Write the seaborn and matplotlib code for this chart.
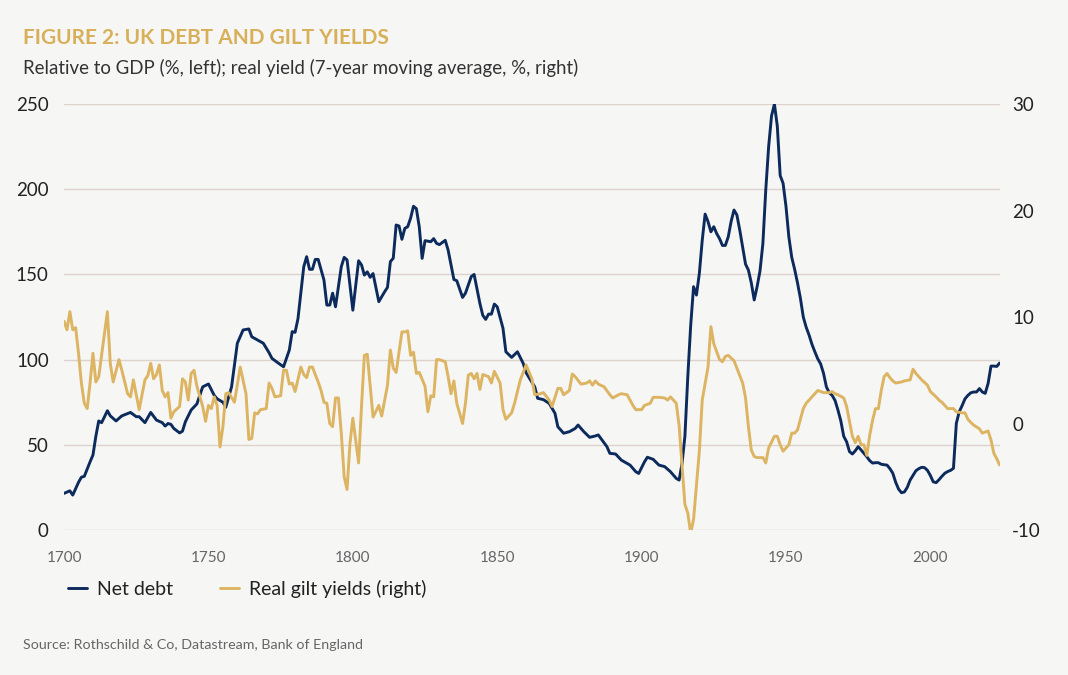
import numpy as np
import pandas as pd
import matplotlib
matplotlib.use('Agg')
import matplotlib.pyplot as plt
import seaborn as sns

# net debt, % of GDP (left axis)
debt_years = [1700, 1702, 1703, 1705, 1706, 1707, 1709, 1710, 1711, 1712, 1713, 1715, 1716, 1717, 1718,
              1720, 1723, 1725, 1726, 1728, 1730, 1732, 1734, 1735, 1736, 1737, 1738, 1740, 1741, 1742,
              1744, 1746, 1748, 1750, 1752, 1753, 1755, 1756, 1758, 1760, 1762, 1764, 1765, 1767, 1769,
              1771, 1772, 1774, 1776, 1778, 1779, 1780, 1781, 1783, 1784, 1785, 1786, 1787, 1788, 1790,
              1791, 1792, 1793, 1794, 1796, 1797, 1798, 1800, 1802, 1803, 1804, 1805, 1806, 1807, 1809,
              1811, 1812, 1813, 1814, 1815, 1816, 1817, 1818, 1819, 1820, 1821, 1822, 1823, 1824, 1825,
              1827, 1828, 1829, 1830, 1832, 1833, 1835, 1836, 1838, 1839, 1841, 1842, 1844, 1845, 1846,
              1847, 1848, 1849, 1850, 1852, 1853, 1855, 1857, 1859, 1860, 1863, 1864, 1866, 1868, 1870,
              1871, 1873, 1875, 1877, 1878, 1880, 1882, 1884, 1885, 1888, 1889, 1891, 1893, 1896, 1898,
              1899, 1901, 1902, 1904, 1906, 1908, 1910, 1912, 1913, 1914, 1915, 1916, 1917, 1918, 1919,
              1920, 1921, 1922, 1923, 1924, 1925, 1926, 1927, 1928, 1929, 1930, 1931, 1932, 1933, 1934,
              1935, 1936, 1937, 1938, 1939, 1940, 1941, 1942, 1943, 1944, 1945, 1946, 1947, 1948, 1949,
              1950, 1951, 1952, 1953, 1954, 1955, 1956, 1957, 1958, 1959, 1960, 1961, 1962, 1963, 1964,
              1965, 1966, 1967, 1968, 1969, 1970, 1971, 1972, 1973, 1974, 1975, 1976, 1977, 1978, 1979,
              1980, 1981, 1982, 1983, 1984, 1985, 1986, 1987, 1988, 1989, 1990, 1991, 1992, 1993, 1994,
              1995, 1996, 1997, 1998, 1999, 2000, 2001, 2002, 2003, 2004, 2005, 2006, 2007, 2008, 2009,
              2010, 2011, 2012, 2013, 2014, 2015, 2016, 2017, 2018, 2019, 2020, 2021, 2022, 2023, 2024]
net_debt = [21.5, 23, 20.5, 28, 31, 31.5, 40, 44, 55, 64, 63, 70, 67, 65.5, 64,
            67, 69, 66.5, 66.5, 63, 69, 64.5, 63, 61, 62.5, 62, 59.6, 57, 58, 63.5,
            70.4, 74, 84, 85.7, 79, 77, 75, 72, 84, 109.6, 117.4, 118, 113.4, 111.5, 109.6,
            104, 100.7, 98.2, 95.8, 105.6, 116.4, 116, 124, 154.5, 160.4, 153, 153, 158.8, 158.8, 146.7,
            132, 132, 139, 131, 154.5, 160, 158.5, 129, 158, 155.6, 149.6, 151.5, 148.3, 150.5, 134,
            139.8, 142.4, 157.5, 159.5, 179, 178.4, 170.6, 177, 178, 183, 190, 188.6, 178, 159.4, 169.8,
            169.2, 171, 168.2, 167.5, 170, 164.3, 147, 146.3, 136.5, 139, 148.7, 150, 133, 126, 123.6,
            126.7, 126.7, 132.6, 131, 118.4, 104.6, 101.3, 104.6, 97.8, 92.3, 84, 77.3, 76.5, 74.3, 68.5,
            60.6, 56.8, 57.7, 59.6, 61.6, 57.7, 54.4, 55.2, 55.8, 48.9, 45, 44.6, 41, 38.1, 34.2,
            33.2, 40, 42.7, 41.5, 38.1, 37.2, 34.2, 30.3, 29.3, 39, 55, 90, 120, 142.8, 137.9,
            150.6, 170, 185.4, 181, 175, 178, 174, 171, 167, 167, 172, 181, 187.8, 184.9, 176,
            166, 156, 152.5, 145, 135, 142.8, 152, 168, 199.5, 225, 243, 250, 237, 208, 203.5,
            190, 172, 160, 153, 145, 136, 125, 119, 114.4, 109, 104.6, 100.5, 97.5, 92, 84,
            80.5, 79, 76, 70.4, 64, 55, 51.8, 46, 44.6, 46.5, 48.9, 47, 45, 43, 40.7,
            39.3, 39.5, 39.5, 38.6, 38.3, 38.1, 36, 33.3, 28, 24, 21.9, 22.3, 25, 29.3, 32,
            34.8, 36, 36.8, 36.6, 35, 32, 28.3, 27.8, 29.5, 31.5, 33.3, 34.3, 35, 36.2, 62.6,
            69.4, 73, 77, 79, 80.5, 81, 81, 83, 81, 80.2, 86, 96.2, 96.2, 96, 98]

# real gilt yields, 7-year moving average, % (right axis)
yield_years = [1700, 1701, 1702, 1703, 1704, 1705, 1706, 1707, 1708, 1709, 1710, 1711, 1712, 1714, 1715,
               1716, 1717, 1719, 1720, 1722, 1723, 1724, 1726, 1728, 1729, 1730, 1731, 1732, 1733, 1734,
               1735, 1736, 1737, 1738, 1740, 1741, 1742, 1743, 1744, 1745, 1746, 1748, 1749, 1750, 1751,
               1752, 1753, 1754, 1755, 1756, 1757, 1759, 1761, 1763, 1764, 1765, 1766, 1767, 1768, 1770,
               1771, 1772, 1773, 1775, 1776, 1777, 1778, 1779, 1780, 1782, 1783, 1784, 1785, 1786, 1788,
               1789, 1790, 1791, 1792, 1793, 1794, 1795, 1796, 1797, 1798, 1799, 1800, 1802, 1803, 1804,
               1805, 1807, 1809, 1810, 1812, 1813, 1814, 1815, 1817, 1818, 1819, 1820, 1821, 1822, 1823,
               1825, 1826, 1827, 1828, 1829, 1830, 1832, 1833, 1834, 1835, 1836, 1838, 1839, 1840, 1841,
               1842, 1843, 1844, 1845, 1847, 1848, 1849, 1851, 1852, 1853, 1855, 1856, 1858, 1860, 1862,
               1863, 1865, 1866, 1868, 1869, 1871, 1872, 1873, 1875, 1876, 1877, 1879, 1881, 1882, 1883,
               1884, 1885, 1887, 1889, 1890, 1892, 1893, 1895, 1897, 1898, 1900, 1901, 1903, 1904, 1906,
               1908, 1909, 1910, 1912, 1913, 1914, 1915, 1916, 1917, 1918, 1920, 1921, 1923, 1924, 1925,
               1927, 1928, 1929, 1930, 1932, 1933, 1935, 1936, 1937, 1938, 1939, 1940, 1942, 1943, 1944,
               1946, 1947, 1948, 1949, 1951, 1952, 1953, 1954, 1956, 1957, 1958, 1959, 1960, 1961, 1963,
               1965, 1966, 1967, 1968, 1970, 1971, 1972, 1973, 1974, 1975, 1976, 1977, 1978, 1979, 1980,
               1981, 1982, 1983, 1984, 1985, 1986, 1987, 1988, 1990, 1991, 1993, 1994, 1995, 1996, 1997,
               1999, 2000, 2002, 2003, 2004, 2005, 2006, 2007, 2008, 2009, 2011, 2012, 2013, 2014, 2015,
               2017, 2018, 2019, 2020, 2021, 2022, 2023, 2024]
real_yield = [9.6, 8.8, 10.5, 8.8, 9.0, 6.6, 3.8, 1.9, 1.4, 3.8, 6.6, 3.9, 4.4, 8.5, 10.5,
              5.65, 3.9, 6.0, 5.0, 2.8, 2.5, 4.1, 1.3, 4.1, 4.5, 5.65, 4.2, 4.6, 5.5, 3.1,
              2.5, 2.9, 0.5, 1.1, 1.6, 4.2, 3.9, 2.2, 4.7, 5.0, 3.5, 1.6, 0.2, 1.7, 1.4,
              2.5, 1.7, -2.2, -0.3, 2.8, 2.9, 2.0, 5.3, 2.8, -1.5, -1.4, 1.0, 0.9, 1.3, 1.4,
              3.8, 3.3, 2.5, 2.6, 5.0, 5.0, 3.7, 3.8, 3.0, 5.3, 4.6, 4.3, 5.3, 5.3, 3.9,
              3.1, 2.0, 1.9, 0.0, -0.3, 2.4, 2.4, -0.9, -5.0, -6.2, -1.9, 0.5, -3.7, 1.6, 6.4,
              6.5, 0.6, 1.7, 0.7, 3.6, 6.9, 5.2, 4.8, 8.6, 8.6, 8.7, 6.4, 6.7, 4.7, 4.8,
              3.5, 1.1, 2.6, 2.5, 6.0, 6.0, 5.8, 4.4, 2.8, 4.0, 1.9, 0.0, 1.9, 4.55, 4.7,
              4.2, 4.7, 3.2, 4.6, 4.4, 3.8, 4.9, 3.8, 1.3, 0.4, 1.0, 1.9, 4.1, 5.5, 4.2,
              2.7, 2.8, 2.9, 2.2, 1.6, 3.3, 3.3, 2.7, 3.1, 4.65, 4.4, 3.7, 3.8, 4.0, 3.6,
              4.0, 3.7, 3.45, 2.7, 2.4, 2.7, 2.8, 2.7, 1.7, 1.3, 1.3, 1.7, 1.9, 2.46, 2.46,
              2.4, 2.2, 2.5, 1.9, -0.2, -3.9, -7.6, -8.4, -10.3, -9.0, -2.6, 2.2, 5.3, 9.1, 7.5,
              6.0, 5.8, 6.3, 6.4, 5.9, 5.2, 3.8, 2.4, -0.3, -2.5, -3.1, -3.2, -3.2, -3.7, -2.3,
              -1.2, -1.2, -2.0, -2.6, -2.0, -0.9, -0.9, -0.6, 1.4, 1.9, 2.2, 2.5, 2.8, 3.1, 2.9,
              2.9, 3.0, 2.8, 2.7, 2.4, 1.6, 0.2, -1.2, -1.8, -1.2, -2.0, -2.0, -3.0, -1.1, 0.3,
              1.4, 1.4, 3.1, 4.4, 4.7, 4.3, 4.0, 3.8, 3.9, 4.0, 4.1, 5.1, 4.7, 4.4, 4.1,
              3.6, 3.0, 2.5, 2.2, 2.0, 1.7, 1.4, 1.4, 1.4, 1.1, 1.0, 1.0, 0.4, 0.1, -0.15,
              -0.5, -0.9, -0.8, -0.7, -1.55, -2.8, -3.3, -3.9]

left_ticks = [0, 50, 100, 150, 200, 250]
right_ticks = [-10, 0, 10, 20, 30]
x_ticks = [1700, 1750, 1800, 1850, 1900, 1950, 2000]

navy = '#0c2b5c'
gold = '#dcb462'
bg = '#f6f6f5'

sns.set_theme(style='white')
plt.rcParams['font.family'] = ['Lato', 'DejaVu Sans']
plt.rcParams['axes.unicode_minus'] = False

fig = plt.figure(figsize=(10.68, 6.75), dpi=100, facecolor=bg)
ax = fig.add_axes([0.06, 0.2148, 0.876, 0.6311])
ax.set_facecolor(bg)
ax2 = ax.twinx()

debt_df = pd.DataFrame({'year': debt_years, 'debt': net_debt})
yield_df = pd.DataFrame({'year': yield_years, 'yield': real_yield})

sns.lineplot(data=debt_df, x='year', y='debt', ax=ax, color=navy, linewidth=2.1)
sns.lineplot(data=yield_df, x='year', y='yield', ax=ax2, color=gold, linewidth=2.1)

ax.set_xlim(1700, 2024)
ax.set_ylim(0, 250)
ax2.set_ylim(-10, 30)
ax.set_yticks(left_ticks)
ax2.set_yticks(right_ticks)
ax.set_xticks(x_ticks)
ax.set_xlabel('')
ax.set_ylabel('')
ax2.set_ylabel('')

ax.yaxis.grid(True, color='#ddd3cc', linewidth=1)
ax.xaxis.grid(False)
ax2.grid(False)
for a in (ax, ax2):
    for s in a.spines.values():
        s.set_visible(False)

ax.tick_params(axis='y', length=0, pad=11, labelsize=13.5, labelcolor='#222222')
ax2.tick_params(axis='y', length=0, pad=9, labelsize=13.5, labelcolor='#222222')
ax.tick_params(axis='x', length=0, pad=15, labelsize=11, labelcolor='#666666')

fig.text(0.022, 0.944, 'FIGURE 2: UK DEBT AND GILT YIELDS', fontsize=15, fontweight='bold',
         color='#d8b05a', va='center', ha='left')
fig.text(0.022, 0.899, 'Relative to GDP (%, left); real yield (7-year moving average, %, right)',
         fontsize=13.4, color='#333333', va='center', ha='left')

handles = [plt.Line2D([], [], color=navy, linewidth=2.1),
           plt.Line2D([], [], color=gold, linewidth=2.1)]
fig.legend(handles, ['Net debt', 'Real gilt yields (right)'], loc='center left',
           bbox_to_anchor=(0.047, 0.128), ncol=2, frameon=False, fontsize=14,
           handlelength=1.0, handletextpad=0.5, columnspacing=2.4, labelcolor='#222222')

fig.text(0.022, 0.045, 'Source: Rothschild & Co, Datastream, Bank of England', fontsize=10.3,
         color='#666666', va='center', ha='left')

fig.savefig('out.png', dpi=100, facecolor=bg)
